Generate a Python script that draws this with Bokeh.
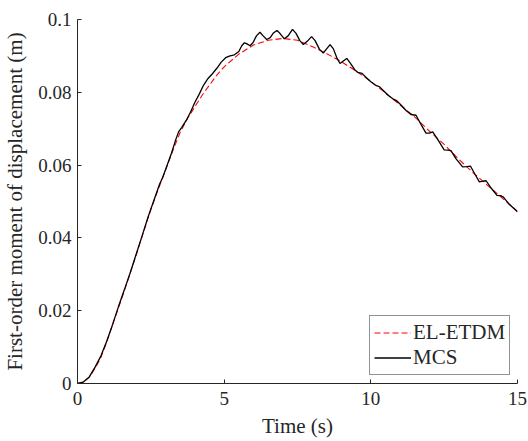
from bokeh.plotting import figure
from bokeh.models import Range1d, FixedTicker, Legend, LegendItem
from bokeh.embed import file_html
from bokeh.resources import INLINE

# EL-ETDM (smooth)
t_el = [0, 0.2, 0.4, 0.6, 0.8, 1.0, 1.25, 1.5, 1.75, 2.0, 2.25, 2.5, 2.75, 3.0, 3.25, 3.5, 3.75,
        4.0, 4.25, 4.5, 4.75, 5.0, 5.5, 6.0, 6.5, 7.0, 7.5, 8.0, 8.5, 9.0, 9.5, 10.0, 10.5,
        11.0, 11.5, 12.0, 12.5, 13.0, 13.5, 14.0, 14.5, 15.0]
v_el = [0, 0.0004, 0.0017, 0.0042, 0.0072, 0.0115, 0.0174, 0.0232, 0.0292, 0.0353, 0.0416,
        0.0478, 0.0533, 0.0586, 0.0640, 0.0690, 0.0728, 0.0760, 0.0792, 0.0820, 0.0847, 0.0870,
        0.0905, 0.0930, 0.0943, 0.0948, 0.0943, 0.0926, 0.0906, 0.0884, 0.0858, 0.0830, 0.0798,
        0.0765, 0.0732, 0.0693, 0.0657, 0.0616, 0.0578, 0.0543, 0.0508, 0.0473]

# MCS (with oscillations)
t_mcs = [0, 0.2, 0.4, 0.6, 0.8, 1.0, 1.2, 1.4, 1.6, 1.8, 2.0, 2.2, 2.4, 2.6, 2.8, 2.9, 3.0, 3.2,
         3.35, 3.45, 3.55, 3.7, 3.85, 4.0, 4.15, 4.3, 4.45, 4.6, 4.75, 4.9, 5.05, 5.2, 5.35, 5.5,
         5.6, 5.69, 5.78, 5.88, 5.98, 6.1, 6.22, 6.33, 6.45, 6.57, 6.68, 6.8, 6.92, 7.05, 7.18,
         7.33, 7.45, 7.58, 7.7, 7.83, 7.98, 8.1, 8.25, 8.38, 8.5, 8.61, 8.72, 8.85, 8.95, 9.06,
         9.18, 9.3, 9.45, 9.55, 9.7, 9.85, 10.0, 10.15, 10.3, 10.45, 10.6, 10.75, 10.88, 11.03,
         11.2, 11.37, 11.54, 11.71, 11.88, 12.0, 12.11, 12.3, 12.5, 12.62, 12.73, 12.9, 13.13,
         13.27, 13.4, 13.55, 13.7, 13.82, 13.93, 14.1, 14.3, 14.42, 14.52, 14.7, 14.85, 15.0]
v_mcs = [0, 0.0004, 0.0018, 0.0045, 0.0076, 0.0117, 0.0163, 0.0212, 0.0258, 0.0305, 0.0355,
         0.0405, 0.0456, 0.0502, 0.0548, 0.0565, 0.0587, 0.0632, 0.0670, 0.0692, 0.0703, 0.0722,
         0.0745, 0.0772, 0.0795, 0.0820, 0.0838, 0.0851, 0.0866, 0.0883, 0.0895, 0.0900, 0.0903,
         0.0912, 0.0928, 0.0936, 0.0933, 0.0928, 0.0936, 0.0955, 0.0965, 0.0955, 0.0945, 0.0950,
         0.0963, 0.0970, 0.0960, 0.0947, 0.0955, 0.0973, 0.0962, 0.0942, 0.0931, 0.0940, 0.0953,
         0.0942, 0.0918, 0.0908, 0.0920, 0.0931, 0.0920, 0.0893, 0.0879, 0.0886, 0.0893, 0.0880,
         0.0862, 0.0855, 0.0852, 0.0840, 0.0829, 0.0820, 0.0815, 0.0803, 0.0791, 0.0782, 0.0777,
         0.0765, 0.0750, 0.0739, 0.0737, 0.0712, 0.0688, 0.0688, 0.0691, 0.0668, 0.0642, 0.0641,
         0.0640, 0.0618, 0.0595, 0.0596, 0.0597, 0.0575, 0.0554, 0.0556, 0.0557, 0.0537, 0.0517,
         0.0516, 0.0512, 0.0494, 0.0483, 0.0472]

x_ticks = [0, 5, 10, 15]
y_ticks = [0, 0.02, 0.04, 0.06, 0.08, 0.1]
y_tick_labels = ["0", "0.02", "0.04", "0.06", "0.08", "0.1"]

FONT = "Liberation Serif"
TXT = "#262626"

p = figure(frame_width=440, frame_height=364, output_backend="svg", toolbar_location=None,
           x_range=Range1d(0, 15), y_range=Range1d(0, 0.1),
           min_border_left=75, min_border_right=10, min_border_top=19, min_border_bottom=44)
p.outline_line_color = None
p.xgrid.visible = False
p.ygrid.visible = False

r_el = p.line(t_el, v_el, line_color="#ff0000", line_width=1.1, line_dash="6 3")
r_mcs = p.line(t_mcs, v_mcs, line_color="black", line_width=1.3)

for ax in (p.xaxis[0], p.yaxis[0]):
    ax.axis_line_color = TXT
    ax.major_tick_line_color = TXT
    ax.major_tick_in = 4
    ax.major_tick_out = 0
    ax.minor_tick_line_color = None
    ax.major_label_text_font = FONT
    ax.major_label_text_font_size = "19px"
    ax.major_label_text_color = TXT
    ax.axis_label_text_font = FONT
    ax.axis_label_text_font_size = "21px"
    ax.axis_label_text_font_style = "normal"
    ax.axis_label_text_color = TXT

p.xaxis[0].ticker = FixedTicker(ticks=x_ticks)
p.yaxis[0].ticker = FixedTicker(ticks=y_ticks)
p.yaxis[0].major_label_overrides = {t: s for t, s in zip(y_ticks, y_tick_labels)}
p.xaxis[0].axis_label = "Time (s)"
p.yaxis[0].axis_label = "First-order moment of displacement (m)"
p.xaxis[0].major_label_standoff = 8
p.yaxis[0].major_label_standoff = 6
p.xaxis[0].axis_label_standoff = 6
p.yaxis[0].axis_label_standoff = 8

legend = Legend(items=[LegendItem(label="EL-ETDM", renderers=[r_el]),
                       LegendItem(label="MCS", renderers=[r_mcs])],
                location=(292, 8))
legend.label_text_font = FONT
legend.label_text_font_size = "21px"
legend.label_text_color = TXT
legend.glyph_width = 37
legend.label_standoff = 2
legend.padding = 4
legend.spacing = 0
legend.label_height = 21
legend.glyph_height = 21
legend.border_line_color = TXT
legend.border_line_width = 1
legend.background_fill_alpha = 1
legend.margin = 0
p.add_layout(legend, "center")

open("out.html", "w").write(file_html(p, INLINE))
